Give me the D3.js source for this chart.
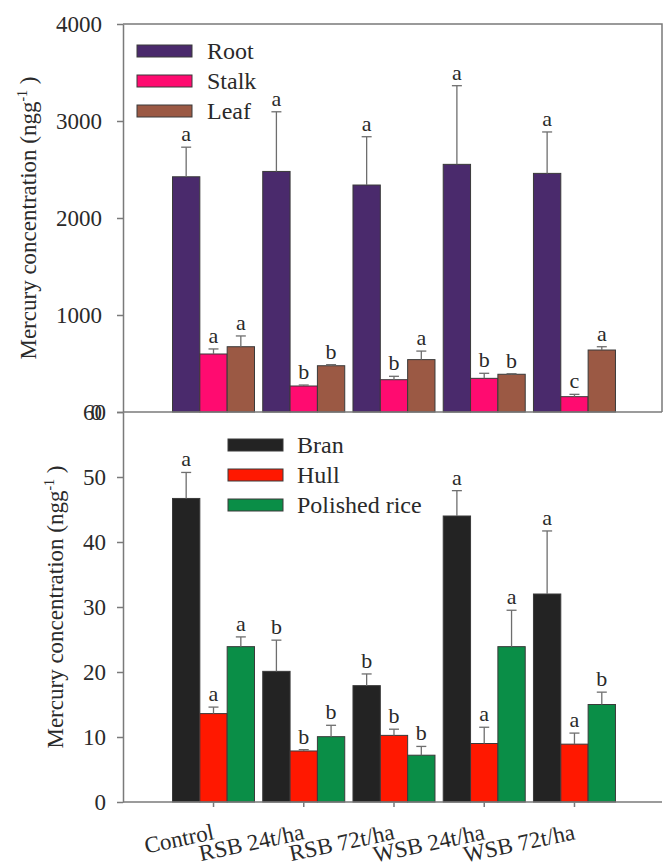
<!DOCTYPE html>
<html>
<head>
<meta charset="utf-8">
<script src="https://cdn.jsdelivr.net/npm/d3@7"></script>
<style>
  html, body { margin: 0; padding: 0; background: #fff; }
  svg { display: block; }
  text { font-family: "Liberation Serif", "Times New Roman", serif; fill: #2a2a2a; }
</style>
</head>
<body>
<script>
// Treatments
const categories = ["Control", "RSB 24t/ha", "RSB 72t/ha", "WSB 24t/ha", "WSB 72t/ha"];

// Plant organs (upper panel), ng g-1
const organSeries = ["Root", "Stalk", "Leaf"];
const rootMean  = [2425, 2480, 2340, 2553, 2460];
const rootErr   = [305, 615, 498, 811, 427];
const rootSig   = ["a", "a", "a", "a", "a"];
const stalkMean = [598, 268, 333, 347, 158];
const stalkErr  = [52, 10, 35, 52, 24];
const stalkSig  = ["a", "b", "b", "b", "c"];
const leafMean  = [673, 477, 540, 389, 639];
const leafErr   = [111, 11, 88, 6, 34];
const leafSig   = ["a", "b", "a", "b", "a"];
const organTicks = [0, 1000, 2000, 3000, 4000];

// Grain fractions (lower panel), ng g-1
const grainSeries = ["Bran", "Hull", "Polished rice"];
const branMean  = [46.7, 20.1, 17.9, 44.0, 32.0];
const branErr   = [4.0, 4.8, 1.8, 3.9, 9.7];
const branSig   = ["a", "b", "b", "a", "a"];
const hullMean  = [13.6, 7.85, 10.25, 9.0, 8.9];
const hullErr   = [1.0, 0.2, 0.95, 2.5, 1.7];
const hullSig   = ["a", "b", "b", "a", "a"];
const polMean   = [23.9, 10.05, 7.2, 23.9, 15.0];
const polErr    = [1.5, 1.75, 1.35, 5.6, 1.9];
const polSig    = ["a", "b", "b", "a", "b"];
const grainTicks = [0, 10, 20, 30, 40, 50, 60];

const organColors = ["#4a2a6c", "#ff0b70", "#9b5944"];
const grainColors = ["#232323", "#ff1800", "#0a8e47"];

const W = 663, H = 864;
const left = 123, right = 662;
const axisColor = "#7a7a7a";

const svg = d3.select("body").append("svg").attr("width", W).attr("height", H);

// Shared category scale and within-group scale
const x0 = d3.scaleBand().domain(categories).range([168.4, 619.6]).padding(0);
const x1 = d3.scaleBand().domain(d3.range(3)).range([4.1, 86.1]).padding(0);

const yTop = d3.scaleLinear().domain([0, 4000]).range([412, 24]);
const yBot = d3.scaleLinear().domain([0, 60]).range([802, 412]);

function rows(means, errs, sigs, colors) {
  const out = [];
  categories.forEach((c, i) => {
    means.forEach((m, s) => {
      out.push({ cat: c, s: s, v: m[i], e: errs[s][i], sig: sigs[s][i], color: colors[s] });
    });
  });
  return out;
}

function drawBars(g, data, y) {
  const grp = g.append("g");
  grp.selectAll("rect.bar").data(data).join("rect")
    .attr("class", "bar")
    .attr("x", d => x0(d.cat) + x1(d.s))
    .attr("width", x1.bandwidth())
    .attr("y", d => y(d.v))
    .attr("height", d => y(0) - y(d.v))
    .attr("fill", d => d.color)
    .attr("stroke", "#3a3a3a")
    .attr("stroke-width", 1);

  const cx = d => x0(d.cat) + x1(d.s) + x1.bandwidth() / 2;
  grp.selectAll("line.err").data(data).join("line")
    .attr("class", "err")
    .attr("x1", cx).attr("x2", cx)
    .attr("y1", d => y(d.v)).attr("y2", d => y(d.v + d.e))
    .attr("stroke", "#6e6e6e").attr("stroke-width", 1.3);
  grp.selectAll("line.cap").data(data).join("line")
    .attr("class", "cap")
    .attr("x1", d => cx(d) - 5).attr("x2", d => cx(d) + 5)
    .attr("y1", d => y(d.v + d.e)).attr("y2", d => y(d.v + d.e))
    .attr("stroke", "#6e6e6e").attr("stroke-width", 1.3);
  grp.selectAll("text.sig").data(data).join("text")
    .attr("class", "sig")
    .attr("x", cx)
    .attr("y", d => y(d.v + d.e) - 6)
    .attr("text-anchor", "middle")
    .attr("font-size", 22)
    .text(d => d.sig);
}

function drawLeftAxis(y, ticks, padding) {
  const ax = svg.append("g").attr("transform", `translate(${left},0)`)
    .call(d3.axisLeft(y).tickValues(ticks).tickFormat(d3.format("d"))
      .tickSize(6).tickSizeOuter(0).tickPadding(padding));
  ax.select(".domain").attr("stroke", axisColor).attr("stroke-width", 1.5);
  ax.selectAll(".tick line").attr("stroke", axisColor).attr("stroke-width", 1.5);
  ax.selectAll(".tick text")
    .attr("font-size", 23)
    .attr("font-family", "Liberation Serif, Times New Roman, serif")
    .attr("fill", "#2a2a2a");
  return ax;
}

function drawTitle(x, yc) {
  const t = svg.append("text")
    .attr("transform", `translate(${x},${yc}) rotate(-90)`)
    .attr("text-anchor", "middle")
    .attr("font-size", 23);
  t.append("tspan").text("Mercury concentration (ngg");
  t.append("tspan").attr("font-size", 14).attr("dy", -9).text("-1");
  t.append("tspan").attr("dy", 9).text(" )");
}

function drawLegend(names, colors, x, y0, tx) {
  const lg = svg.append("g");
  names.forEach((n, i) => {
    const yc = y0 + i * 30;
    lg.append("rect").attr("x", x).attr("y", yc - 6).attr("width", 55).attr("height", 12)
      .attr("fill", colors[i]).attr("stroke", "#3a3a3a").attr("stroke-width", 1);
    lg.append("text").attr("x", tx).attr("y", yc + 8).attr("font-size", 24).text(n);
  });
}

// ---------- Upper panel: plant organs ----------
const topData = rows([rootMean, stalkMean, leafMean], [rootErr, stalkErr, leafErr],
                     [rootSig, stalkSig, leafSig], organColors);
drawBars(svg, topData, yTop);
drawLeftAxis(yTop, organTicks, 15);
// frame: top and right edges
svg.append("path")
  .attr("d", `M${left},${yTop(4000)}H${right}V${yTop(0)}`)
  .attr("fill", "none").attr("stroke", axisColor).attr("stroke-width", 1.5);
drawTitle(36, (yTop(0) + yTop(4000)) / 2);
drawLegend(organSeries, organColors, 137, 51, 207);

// ---------- Lower panel: grain fractions ----------
const botData = rows([branMean, hullMean, polMean], [branErr, hullErr, polErr],
                     [branSig, hullSig, polSig], grainColors);
drawBars(svg, botData, yBot);
drawLeftAxis(yBot, grainTicks, 11);
drawTitle(63, (yBot(0) + yBot(60)) / 2);
drawLegend(grainSeries, grainColors, 228, 445, 297);

// shared separator / upper x-axis and lower x-axis baselines
svg.append("line").attr("x1", left).attr("x2", right).attr("y1", yTop(0)).attr("y2", yTop(0))
  .attr("stroke", axisColor).attr("stroke-width", 1.5);
svg.append("line").attr("x1", left).attr("x2", right).attr("y1", yBot(0)).attr("y2", yBot(0))
  .attr("stroke", axisColor).attr("stroke-width", 1.5);

// category ticks and slanted labels
const cxCat = c => x0(c) + x0.bandwidth() / 2;
svg.selectAll("line.xtick").data(categories).join("line")
  .attr("class", "xtick")
  .attr("x1", cxCat).attr("x2", cxCat)
  .attr("y1", yBot(0)).attr("y2", yBot(0) + 5)
  .attr("stroke", axisColor).attr("stroke-width", 1.5);
svg.selectAll("text.xlab").data(categories).join("text")
  .attr("class", "xlab")
  .attr("text-anchor", "end")
  .attr("font-size", 23)
  .attr("transform", c => `translate(${cxCat(c) + 1.5},839) rotate(-12)`)
  .text(c => c);
</script>
</body>
</html>
